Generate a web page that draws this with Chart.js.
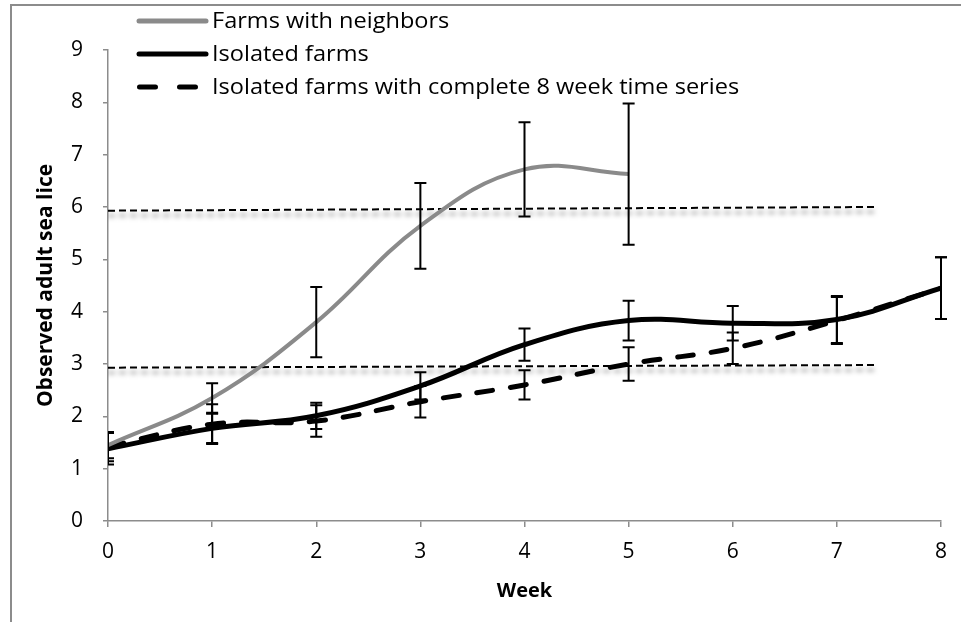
<!DOCTYPE html>
<html>
<head>
<meta charset="utf-8">
<script src="https://cdn.jsdelivr.net/npm/chart.js@4/dist/chart.umd.min.js"></script>
<style>
  html, body { margin: 0; padding: 0; background: #fff; }
  canvas { display: block; }
</style>
</head>
<body>
<canvas id="c" width="961" height="622"></canvas>
<script>
// Weekly observations of adult sea lice per fish
const weeks = [0, 1, 2, 3, 4, 5, 6, 7, 8];
const neighborWeeks = [0, 1, 2, 3, 4, 5];

const neighborMean = [1.45, 2.35, 3.80, 5.64, 6.72, 6.63];
const neighborErr  = [0.25, 0.28, 0.67, 0.82, 0.90, 1.35];

const isolatedMean = [1.38, 1.77, 2.01, 2.58, 3.37, 3.83, 3.78, 3.85, 4.45];
const isolatedErr  = [0.30, 0.28, 0.25, 0.26, 0.31, 0.38, 0.33, 0.45, 0.59];

const completeMean = [1.42, 1.85, 1.91, 2.28, 2.60, 3.00, 3.30, 3.83, 4.45];
const completeErr  = [0.28, 0.38, 0.30, 0.30, 0.28, 0.32, 0.30, 0.45, 0.59];

// Reference levels drawn across the plot
const refX      = [0, 7.37];
const upperRefY = [5.93, 6.00];
const lowerRefY = [2.93, 2.98];

const seriesNames = [
  'Farms with neighbors',
  'Isolated farms',
  'Isolated farms with complete 8 week time series'
];
const xTitle = 'Week';
const yTitle = 'Observed adult sea lice';

const FONT = '"Open Sans", Lato, sans-serif';
const GREY = '#8a8a8a';
const AXIS = '#8c8c8c';

const toPoints = (xs, ys) => xs.map((x, i) => ({ x, y: ys[i] }));

// Outer frame (left and top edges)
const framePlugin = {
  id: 'frame',
  beforeDraw(chart) {
    const ctx = chart.ctx;
    ctx.save();
    ctx.strokeStyle = AXIS;
    ctx.lineWidth = 2;
    ctx.beginPath();
    ctx.moveTo(11, chart.height);
    ctx.lineTo(11, 5);
    ctx.lineTo(chart.width, 5);
    ctx.stroke();
    ctx.restore();
  }
};

// Soft shadow under the reference levels
const shadowPlugin = {
  id: 'refShadow',
  beforeDatasetDraw(chart, args) {
    const ds = chart.data.datasets[args.index];
    if (!ds.isReference) return;
    const ctx = chart.ctx;
    ctx.save();
    ctx.shadowColor = 'rgba(0,0,0,0.5)';
    ctx.shadowBlur = 5;
    ctx.shadowOffsetY = 5;
  },
  afterDatasetDraw(chart, args) {
    const ds = chart.data.datasets[args.index];
    if (!ds.isReference) return;
    chart.ctx.restore();
  }
};

// Standard-error bars
const errorBarPlugin = {
  id: 'errorBars',
  afterDatasetsDraw(chart) {
    const ctx = chart.ctx;
    const xs = chart.scales.x, ys = chart.scales.y;
    const area = chart.chartArea;
    ctx.save();
    ctx.beginPath();
    ctx.rect(area.left, area.top - 20, area.right - area.left + 20, area.bottom - area.top + 20);
    ctx.clip();
    ctx.strokeStyle = '#000';
    ctx.lineWidth = 2;
    chart.data.datasets.forEach(ds => {
      if (!ds.errors) return;
      ds.data.forEach((p, i) => {
        const e = ds.errors[i];
        if (e == null) return;
        const px = xs.getPixelForValue(p.x);
        const top = ys.getPixelForValue(p.y + e);
        const bot = ys.getPixelForValue(p.y - e);
        ctx.beginPath();
        ctx.moveTo(px, top); ctx.lineTo(px, bot);
        ctx.moveTo(px - 6, top); ctx.lineTo(px + 6, top);
        ctx.moveTo(px - 6, bot); ctx.lineTo(px + 6, bot);
        ctx.stroke();
      });
    });
    ctx.restore();
  }
};

// Legend stacked in the upper-left corner
const legendPlugin = {
  id: 'stackLegend',
  afterDraw(chart) {
    const ctx = chart.ctx;
    const rowsY = [21, 54, 87];
    ctx.save();
    ctx.font = '22px ' + FONT;
    ctx.textBaseline = 'middle';
    ctx.fillStyle = '#000';
    for (let i = 0; i < 3; i++) {
      const ds = chart.data.datasets[i];
      const y = rowsY[i];
      ctx.strokeStyle = ds.borderColor;
      ctx.lineWidth = 5;
      ctx.lineCap = 'round';
      ctx.beginPath();
      if (ds.borderDash && ds.borderDash.length) {
        ctx.setLineDash([16, 24]);
        ctx.moveTo(139.5, y); ctx.lineTo(200, y);
      } else {
        ctx.moveTo(139, y); ctx.lineTo(206, y);
      }
      ctx.stroke();
      ctx.setLineDash([]);
      // slightly widened lettering
      ctx.save();
      ctx.translate(212, y + 1);
      ctx.scale(1.07, 1);
      ctx.fillText(ds.label, 0, 0);
      ctx.restore();
    }
    ctx.restore();
  }
};

new Chart(document.getElementById('c'), {
  type: 'line',
  data: {
    datasets: [
      {
        label: seriesNames[0],
        data: toPoints(neighborWeeks, neighborMean),
        errors: neighborErr,
        borderColor: GREY,
        borderWidth: 4,
        tension: 0.4,
        pointRadius: 0
      },
      {
        label: seriesNames[1],
        data: toPoints(weeks, isolatedMean),
        errors: isolatedErr,
        borderColor: '#000',
        borderWidth: 5,
        tension: 0.4,
        pointRadius: 0
      },
      {
        label: seriesNames[2],
        data: toPoints(weeks, completeMean),
        errors: completeErr,
        borderColor: '#000',
        borderWidth: 5,
        borderDash: [16, 18],
        borderCapStyle: 'round',
        tension: 0.4,
        pointRadius: 0
      },
      {
        label: 'upper level',
        isReference: true,
        data: toPoints(refX, upperRefY),
        borderColor: '#000',
        borderWidth: 2,
        borderDash: [7, 4],
        pointRadius: 0
      },
      {
        label: 'lower level',
        isReference: true,
        data: toPoints(refX, lowerRefY),
        borderColor: '#000',
        borderWidth: 2,
        borderDash: [7, 4],
        pointRadius: 0
      }
    ]
  },
  options: {
    responsive: false,
    devicePixelRatio: 1,
    animation: false,
    layout: { padding: { top: 50, right: 20, bottom: 0, left: 0 } },
    plugins: {
      legend: { display: false },
      tooltip: { enabled: false }
    },
    scales: {
      x: {
        type: 'linear',
        min: 0, max: 8,
        afterFit(scale) { scale.height = 101; },
        ticks: { stepSize: 1, color: '#000', font: { family: FONT, size: 21 }, padding: 12 },
        grid: { drawOnChartArea: false, drawTicks: true, tickLength: 6, color: AXIS, lineWidth: 1.5 },
        border: { color: AXIS, width: 1.5 },
        title: { display: true, text: xTitle, color: '#000', font: { family: FONT, size: 20, weight: 'bold' }, padding: { top: 0, bottom: 19 } }
      },
      y: {
        min: 0, max: 9,
        afterFit(scale) { scale.width = 108; },
        ticks: { stepSize: 1, color: '#000', font: { family: FONT, size: 21 }, padding: 20 },
        grid: { drawOnChartArea: false, drawTicks: true, tickLength: 5, color: AXIS, lineWidth: 1.5 },
        border: { color: AXIS, width: 1.5 },
        title: { display: true, text: yTitle, color: '#000', font: { family: FONT, size: 21, weight: 'bold' }, padding: { top: 33, bottom: 0 } }
      }
    }
  },
  plugins: [framePlugin, shadowPlugin, errorBarPlugin, legendPlugin]
});
</script>
</body>
</html>
